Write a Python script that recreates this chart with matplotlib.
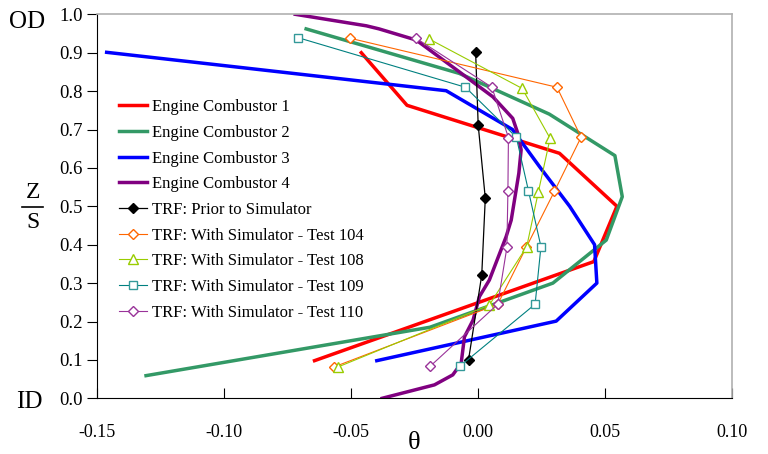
import matplotlib
matplotlib.use('Agg')
import matplotlib.pyplot as plt
from matplotlib.lines import Line2D

plt.rcParams['font.family'] = ['Liberation Serif', 'DejaVu Serif']

# engine profiles (theta, z/s)
ec1_theta = [-0.046, -0.028, 0.032, 0.0546, 0.0455, -0.0644]
ec1_zs = [0.90, 0.763, 0.638, 0.50, 0.356, 0.098]

ec2_theta = [-0.0677, -0.0074, 0.028, 0.0538, 0.0567, 0.0504, 0.0294, -0.019, -0.1307]
ec2_zs = [0.962, 0.846, 0.74, 0.632, 0.525, 0.412, 0.30, 0.185, 0.059]

ec3_theta = [-0.1462, -0.0126, 0.0135, 0.0245, 0.036, 0.0458, 0.0467, 0.0307, -0.0399]
ec3_zs = [0.901, 0.801, 0.70, 0.60, 0.50, 0.40, 0.30, 0.201, 0.098]

ec4_theta = [-0.072, -0.044, -0.039, -0.0244, -0.0074, 0.0058, 0.0136, 0.0156, 0.0169,
             0.016, 0.013, 0.011, 0.0044, 0.0005, -0.002, -0.0054, -0.0067, -0.010,
             -0.0172, -0.0378]
ec4_zs = [1.0, 0.97, 0.962, 0.933, 0.85, 0.785, 0.729, 0.69, 0.647,
          0.586, 0.464, 0.421, 0.308, 0.265, 0.204, 0.16, 0.091, 0.061,
          0.035, 0.0]

# TRF rig data
prior_theta = [-0.001, 0.0, 0.0028, 0.0014, -0.0038]
prior_zs = [0.901, 0.712, 0.521, 0.321, 0.10]

t104_theta = [-0.0503, 0.031, 0.0405, 0.030, 0.0189, 0.0077, -0.0566]
t104_zs = [0.9375, 0.81, 0.68, 0.539, 0.393, 0.245, 0.082]

t108_theta = [-0.0194, 0.0173, 0.0283, 0.0237, 0.0191, 0.0044, -0.055]
t108_zs = [0.936, 0.807, 0.677, 0.538, 0.395, 0.243, 0.082]

t109_theta = [-0.0708, -0.005, 0.015, 0.0198, 0.0247, 0.0224, -0.0071]
t109_zs = [0.939, 0.81, 0.68, 0.54, 0.395, 0.245, 0.084]

t110_theta = [-0.0244, 0.0054, 0.0119, 0.0117, 0.0113, 0.0077, -0.0188]
t110_zs = [0.9375, 0.81, 0.679, 0.54, 0.393, 0.245, 0.084]

xticks = [-0.15, -0.10, -0.05, 0.00, 0.05, 0.10]
yticks = [0.0, 0.1, 0.2, 0.3, 0.4, 0.5, 0.6, 0.7, 0.8, 0.9, 1.0]

fig = plt.figure(figsize=(7.68, 4.54), dpi=100)
ax = fig.add_axes([97 / 768, 1 - 398.3 / 454, (732.3 - 97) / 768, (398.3 - 14.3) / 454])

lw = 2.5
ax.plot(ec1_theta, ec1_zs, color='#FF0000', lw=lw, label='Engine Combustor 1')
ax.plot(ec2_theta, ec2_zs, color='#339966', lw=lw, label='Engine Combustor 2')
ax.plot(ec3_theta, ec3_zs, color='#0000FF', lw=lw, label='Engine Combustor 3')
ax.plot(ec4_theta, ec4_zs, color='#800080', lw=lw, label='Engine Combustor 4')

ax.plot(prior_theta, prior_zs, color='black', lw=0.9, marker='D', ms=5,
        label='TRF: Prior to Simulator')
ax.plot(t104_theta, t104_zs, color='#FF6600', lw=0.8, marker='D', ms=5,
        mfc='white', label='TRF: With Simulator - Test 104')
ax.plot(t108_theta, t108_zs, color='#99CC00', lw=0.8, marker='^', ms=7,
        mfc='white', label='TRF: With Simulator - Test 108')
ax.plot(t109_theta, t109_zs, color='#008080', lw=0.8, marker='s', ms=6,
        mfc='white', mec='#339999', label='TRF: With Simulator - Test 109')
ax.plot(t110_theta, t110_zs, color='#993399', lw=0.8, marker='D', ms=5,
        mfc='white', label='TRF: With Simulator - Test 110')

ax.set_xlim(-0.15, 0.10)
ax.set_ylim(0.0, 1.0)
ax.set_xticks(xticks)
ax.set_yticks(yticks)
ax.set_xticklabels(['%.2f' % v for v in xticks])
ax.set_yticklabels(['%.1f' % v for v in yticks])
ax.tick_params(axis='x', direction='in', length=7, labelsize=13, pad=18.5)
ax.tick_params(axis='y', direction='out', length=7, labelsize=13.5, pad=3)
ax.spines['top'].set_color('#B0B0B0')
ax.spines['right'].set_color('#B0B0B0')
ax.spines['top'].set_linewidth(1.2)
ax.spines['right'].set_linewidth(1.2)

ax.legend(loc='upper left', bbox_to_anchor=(111 / 768, 1 - 91 / 454),
          bbox_transform=fig.transFigure, frameon=False, fontsize=12,
          handlelength=1.65, handletextpad=0.3, labelspacing=0.58, borderpad=0)

fig.text(26.7 / 768, 1 - 21.7 / 454, 'OD', fontsize=18, ha='center', va='center')
fig.text(29.7 / 768, 1 - 401.7 / 454, 'ID', fontsize=18, ha='center', va='center')
fig.text(33 / 768, 1 - 193 / 454, 'Z', fontsize=17, ha='center', va='center')
fig.text(32.5 / 768, 1 - 222 / 454, 'S', fontsize=17, ha='center', va='center')
fig.add_artist(Line2D([21.7 / 768, 42.7 / 768], [1 - 207.3 / 454, 1 - 207.3 / 454],
                      color='black', lw=1.2, transform=fig.transFigure))
fig.text(414 / 768, 1 - 443 / 454, 'θ', fontsize=19, ha='center', va='center')

fig.savefig('out.png', dpi=100)
